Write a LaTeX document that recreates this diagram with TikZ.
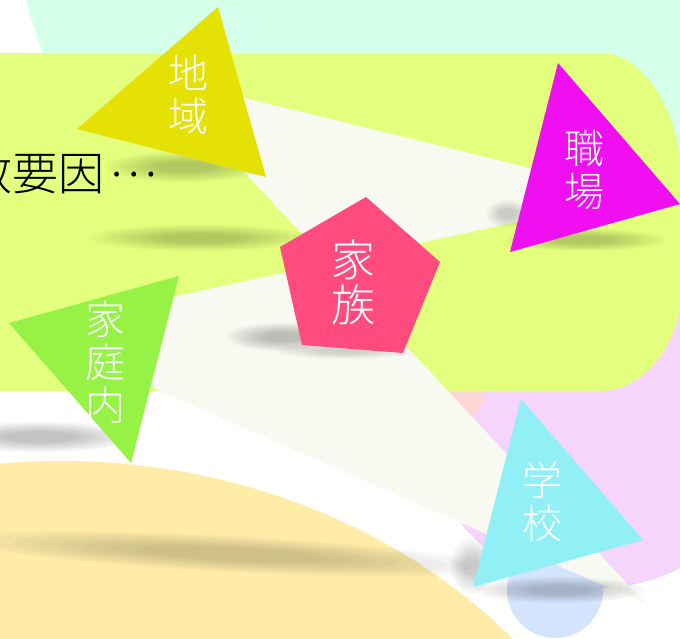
\documentclass[tikz,border=0pt]{standalone}
\usepackage{fontspec}
\IfFontExistsTF{Noto Sans CJK JP Light}{\newfontfamily\cjk{Noto Sans CJK JP Light}}{\newfontfamily\cjk{Noto Sans CJK JP}}
\definecolor{mintbg}{HTML}{D4FFE8}
\definecolor{limebg}{HTML}{E4FF7D}
\definecolor{offw}{HTML}{F8FAF2}
\definecolor{yellowbg}{HTML}{FEECA8}
\definecolor{pinkbg}{HTML}{F6D5FC}
\definecolor{salmonbg}{HTML}{FFD6D6}
\definecolor{bluebg}{HTML}{D4E4FC}
\definecolor{cChiiki}{HTML}{E6E105}
\definecolor{cShokuba}{HTML}{F00FF0}
\definecolor{cKatei}{HTML}{96F346}
\definecolor{cGakkou}{HTML}{91F0F5}
\definecolor{cKazoku}{HTML}{FF4B7D}
\newcommand\softshadow[6][0]{%
  \begin{scope}[rotate around={#1:(#2,#3)}]
  \foreach \k in {0,...,7}{
    \fill[black,opacity=#6] (#2,#3) ellipse[x radius={#4*(1-0.09*\k)}, y radius={#5*(1-0.09*\k)}];
  }
  \end{scope}}
\tikzset{
  lbl/.style={font=\cjk\fontsize{40}{43}\selectfont, text=white, align=center, inner sep=0pt},
  bigl/.style={font=\cjk\fontsize{44}{45}\selectfont, text=white, align=center, inner sep=0pt},
}
\begin{document}
\begin{tikzpicture}[x=1pt,y=-1pt]
\useasboundingbox (0,0) rectangle (680,638);
\begin{scope}
\clip (0,0) rectangle (680,638);
% background
\fill[white] (0,0) rectangle (680,638);
\fill[mintbg] (510,-126.5) circle[radius=500];
\fill[pinkbg] (598,410) circle[radius=178];
\fill[salmonbg] (430,380) circle[radius=57];
\fill[bluebg] (555,590) circle[radius=48];
\fill[yellowbg] (61,981) ellipse[x radius=600, y radius=520];
\fill[limebg] (-5,53) -- (600,53) .. controls (645.8,53) and (683,115.7) .. (683,193)
  -- (683,280) .. controls (683,341.3) and (645.8,391) .. (600,391) -- (-5,391) -- cycle;
% connector band (bow-tie through the centre)
\coordinate (pA) at (155,76);
\coordinate (pB) at (640,195);
\coordinate (pC) at (21,330);
\coordinate (pD) at (646,604);
\fill[offw] (pA) -- (pB) -- (pC) -- (pD) -- cycle;
% shadows
\softshadow{185}{167}{80}{15}{0.028}
\softshadow{200}{238}{110}{13}{0.028}
\softshadow{282}{337}{55}{14}{0.03}
\softshadow{345}{351}{70}{8}{0.018}
\softshadow{508}{214}{22}{14}{0.022}
\softshadow{585}{240}{80}{11}{0.028}
\softshadow{40}{437}{95}{15}{0.03}
\softshadow[-3]{230}{554}{265}{18}{0.025}
\softshadow{472}{566}{22}{28}{0.022}
\softshadow{560}{590}{85}{13}{0.028}
% shapes
\fill[cChiiki] (218,7) -- (77,129) -- (266,177) -- cycle;
\fill[cShokuba] (558,63) -- (680,204) -- (510,252) -- cycle;
\fill[cKatei] (179,276) -- (9,323) -- (131,463) -- cycle;
\fill[cGakkou] (521,399) -- (643,540) -- (473,587) -- cycle;
\fill[cKazoku] (366,197) -- (440,262) -- (403,353) -- (302,345) -- (280,247) -- cycle;
% texts
\node[lbl] (chiiki) at (188,95) {地\\域};
\node[lbl] (shokuba) at (584,170) {職\\場};
\node[lbl] (katei) at (105,362) {家\\庭\\内};
\node[lbl] (gakkou) at (542,502) {学\\校};
\node[bigl] (kazoku) at (353,282) {家\\族};
\node[font=\cjk\fontsize{46}{50}\selectfont, text=black, anchor=west, inner sep=0pt] (youin) at (-34,173) {数要因\hspace{0.12em}\raisebox{0.3em}{…}};
\end{scope}
\end{tikzpicture}
\end{document}
